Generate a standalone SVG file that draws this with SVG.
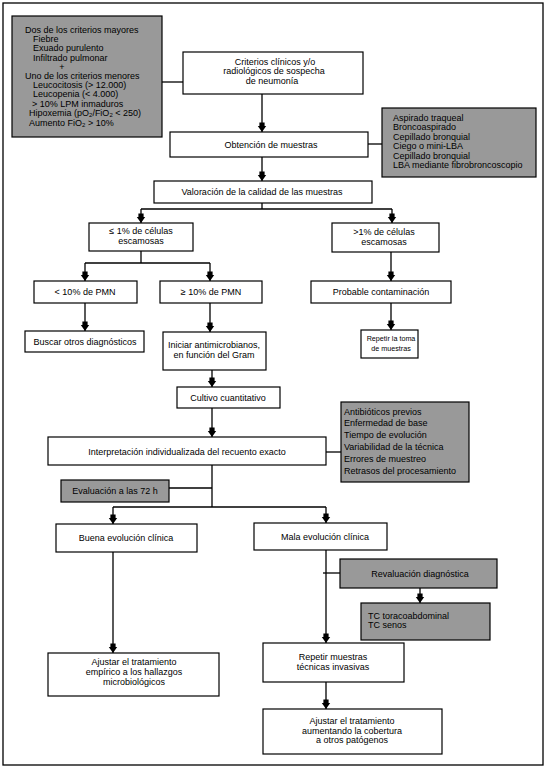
<svg xmlns="http://www.w3.org/2000/svg" width="548" height="769" viewBox="0 0 548 769">
<defs>
<style>
.frame{fill:#fff;stroke:#000;stroke-width:1.3}
.box{fill:#fff;stroke:#000;stroke-width:1.2}
.gray{fill:#999;stroke:#000;stroke-width:1.2}
text{font-family:"Liberation Sans",Arial,sans-serif;font-size:9px;fill:#000}
.c{text-anchor:middle}
.sub{font-size:6px}
.sm{font-size:7.2px}
#connectors line{stroke:#000;stroke-width:1.3;fill:none}
.arr{marker-end:url(#ah)}
</style>
<marker id="ah" viewBox="-10 -5 10 10" refX="0" refY="0" markerWidth="10" markerHeight="10" markerUnits="userSpaceOnUse" orient="auto" overflow="visible">
<path d="M-9.5,-2.6 H-6 V-4.2 L0,0 L-6,4.2 V2.6 H-9.5 Z" fill="#000"/>
</marker>
</defs>
<rect class="frame" x="3" y="3" width="540" height="762"/>

<g id="connectors">
<line x1="162" y1="82" x2="183" y2="82"/>
<line class="arr" x1="262" y1="94" x2="262" y2="132"/>
<line x1="368" y1="144" x2="382" y2="144"/>
<line class="arr" x1="262" y1="157" x2="262" y2="181"/>
<line x1="262" y1="203" x2="262" y2="209"/>
<line x1="141" y1="209" x2="392" y2="209"/>
<line class="arr" x1="141" y1="209" x2="141" y2="223"/>
<line class="arr" x1="392" y1="209" x2="392" y2="223"/>
<line x1="141" y1="251" x2="141" y2="263"/>
<line x1="85" y1="263" x2="210" y2="263"/>
<line class="arr" x1="85" y1="263" x2="85" y2="281"/>
<line class="arr" x1="210" y1="263" x2="210" y2="281"/>
<line class="arr" x1="85" y1="303" x2="85" y2="331"/>
<line class="arr" x1="210" y1="303" x2="210" y2="332"/>
<line class="arr" x1="391" y1="252" x2="391" y2="281"/>
<line class="arr" x1="391" y1="303" x2="391" y2="330"/>
<line class="arr" x1="212" y1="370" x2="212" y2="387"/>
<line class="arr" x1="212" y1="408" x2="212" y2="437"/>
<line x1="326" y1="452" x2="341" y2="452"/>
<line x1="212" y1="465" x2="212" y2="507"/>
<line x1="169" y1="488" x2="212" y2="488"/>
<line x1="113" y1="507" x2="326" y2="507"/>
<line class="arr" x1="113" y1="507" x2="113" y2="524"/>
<line class="arr" x1="326" y1="507" x2="326" y2="523"/>
<line class="arr" x1="326" y1="550" x2="326" y2="643"/>
<line x1="323" y1="573" x2="340" y2="573"/>
<line class="arr" x1="420" y1="588" x2="420" y2="603"/>
<line class="arr" x1="326" y1="682" x2="326" y2="709"/>
<line class="arr" x1="113" y1="552" x2="113" y2="653"/>
</g>

<g id="criterios-mayores-menores">
<rect class="gray" x="12" y="16" width="150" height="121"/>
<text x="25" y="33">Dos de los criterios mayores</text>
<text x="33" y="42.2">Fiebre</text>
<text x="33" y="51.4">Exuado purulento</text>
<text x="33" y="60.6">Infiltrado pulmonar</text>
<text x="62" y="69.8" class="c">+</text>
<text x="25" y="79">Uno de los criterios menores</text>
<text x="33" y="88.2">Leucocitosis (&gt; 12.000)</text>
<text x="33" y="97.4">Leucopenia (&lt; 4.000)</text>
<text x="32" y="106.6">&gt; 10% LPM inmaduros</text>
<text x="29" y="115.5">Hipoxemia (pO<tspan class="sub" dy="1.5">2</tspan><tspan dy="-1.5">/FiO</tspan><tspan class="sub" dy="1.5">2</tspan><tspan dy="-1.5"> &lt; 250)</tspan></text>
<text x="29" y="125.5">Aumento FiO<tspan class="sub" dy="1.5">2</tspan><tspan dy="-1.5"> &gt; 10%</tspan></text>
</g>

<g id="criterios-clinicos">
<rect class="box" x="183" y="52" width="180" height="42"/>
<text x="275" y="65" class="c">Criterios clínicos y/o</text>
<text x="274" y="74" class="c">radiológicos de sospecha</text>
<text x="272" y="83.5" class="c">de neumonía</text>
</g>

<g id="obtencion">
<rect class="box" x="170" y="132" width="198" height="25"/>
<text x="271" y="148" class="c">Obtención de muestras</text>
</g>

<g id="tecnicas-muestreo">
<rect class="gray" x="382" y="108" width="154" height="69"/>
<text x="393" y="121">Aspirado traqueal</text>
<text x="393" y="130.4">Broncoaspirado</text>
<text x="393" y="139.8">Cepillado bronquial</text>
<text x="393" y="149.2">Ciego  o mini-LBA</text>
<text x="393" y="158.6">Cepillado bronquial</text>
<text x="393" y="168">LBA mediante fibrobroncoscopio</text>
</g>

<g id="valoracion">
<rect class="box" x="154" y="181" width="218" height="22"/>
<text x="262" y="195" class="c">Valoración de la calidad de las muestras</text>
</g>

<g id="menor-1">
<rect class="box" x="89" y="223" width="104" height="28"/>
<text x="141" y="234" class="c">≤ 1% de células</text>
<text x="141" y="244" class="c">escamosas</text>
</g>

<g id="mayor-1">
<rect class="box" x="332" y="223" width="107" height="29"/>
<text x="384" y="235" class="c">&gt;1% de células</text>
<text x="384" y="245" class="c">escamosas</text>
</g>

<g id="menor-10-pmn">
<rect class="box" x="34" y="281" width="103" height="22"/>
<text x="85" y="295" class="c">&lt; 10% de PMN</text>
</g>

<g id="mayor-10-pmn">
<rect class="box" x="160" y="281" width="102" height="22"/>
<text x="211" y="295" class="c">≥ 10% de PMN</text>
</g>

<g id="probable-contaminacion">
<rect class="box" x="311" y="281" width="140" height="22"/>
<text x="381" y="294.5" class="c">Probable contaminación</text>
</g>

<g id="buscar-otros">
<rect class="box" x="25" y="331" width="119" height="21"/>
<text x="85" y="344.5" class="c">Buscar otros diagnósticos</text>
</g>

<g id="iniciar-antimicrobianos">
<rect class="box" x="163" y="332" width="103" height="38"/>
<text x="214" y="348" class="c">Iniciar antimicrobianos,</text>
<text x="214" y="358" class="c">en función del Gram</text>
</g>

<g id="repetir-toma">
<rect class="box" x="361" y="330" width="57" height="28"/>
<text x="391" y="340.5" class="c sm">Repetir la toma</text>
<text x="391" y="350.5" class="c sm">de muestras</text>
</g>

<g id="cultivo">
<rect class="box" x="177" y="387" width="103" height="21"/>
<text x="228" y="400.5" class="c">Cultivo cuantitativo</text>
</g>

<g id="interpretacion">
<rect class="box" x="48" y="437" width="278" height="28"/>
<text x="187" y="454.5" class="c">Interpretación individualizada del recuento exacto</text>
</g>

<g id="factores">
<rect class="gray" x="341" y="402" width="128" height="80"/>
<text x="344" y="414.5">Antibióticos previos</text>
<text x="344" y="426.3">Enfermedad de base</text>
<text x="344" y="438.1">Tiempo de evolución</text>
<text x="344" y="449.9">Variabilidad de la técnica</text>
<text x="344" y="461.7">Errores de muestreo</text>
<text x="344" y="473.5">Retrasos del procesamiento</text>
</g>

<g id="evaluacion-72h">
<rect class="gray" x="61" y="480" width="108" height="22"/>
<text x="115" y="494" class="c">Evaluación a las 72 h</text>
</g>

<g id="buena-evolucion">
<rect class="box" x="56" y="524" width="141" height="28"/>
<text x="126" y="541" class="c">Buena evolución clínica</text>
</g>

<g id="mala-evolucion">
<rect class="box" x="254" y="523" width="133" height="27"/>
<text x="325" y="539.5" class="c">Mala evolución clínica</text>
</g>

<g id="revaluacion">
<rect class="gray" x="340" y="559" width="157" height="29"/>
<text x="420" y="577" class="c">Revaluación diagnóstica</text>
</g>

<g id="tc">
<rect class="gray" x="361" y="603" width="129" height="37"/>
<text x="368" y="619">TC toracoabdominal</text>
<text x="368" y="628">TC senos</text>
</g>

<g id="ajustar-empirico">
<rect class="box" x="48" y="653" width="171" height="43"/>
<text x="134" y="665" class="c">Ajustar el tratamiento</text>
<text x="134" y="675" class="c">empírico a los hallazgos</text>
<text x="134" y="685" class="c">microbiológicos</text>
</g>

<g id="repetir-muestras">
<rect class="box" x="263" y="643" width="141" height="39"/>
<text x="333" y="660" class="c">Repetir muestras</text>
<text x="333" y="670" class="c">técnicas invasivas</text>
</g>

<g id="ajustar-cobertura">
<rect class="box" x="263" y="709" width="179" height="45"/>
<text x="352" y="724" class="c">Ajustar el tratamiento</text>
<text x="352" y="733.5" class="c">aumentando la cobertura</text>
<text x="352" y="743" class="c">a otros patógenos</text>
</g>
</svg>
